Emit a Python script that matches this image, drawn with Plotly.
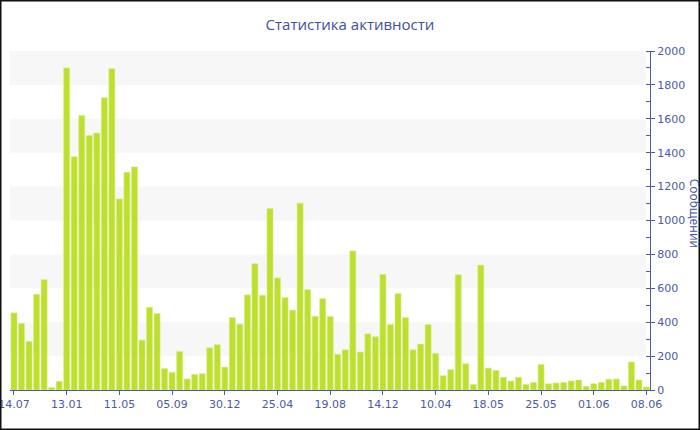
import plotly.graph_objects as go

# Data
messages = [455, 392, 286, 565, 651, 14, 51, 1900, 1376, 1620,
            1502, 1516, 1724, 1896, 1127, 1284, 1316, 294, 488, 451,
            127, 104, 227, 65, 92, 96, 249, 267, 135, 427,
            388, 561, 745, 559, 1071, 661, 545, 471, 1102, 592,
            435, 539, 433, 210, 237, 820, 224, 331, 314, 682,
            386, 569, 427, 237, 271, 386, 216, 84, 120, 680,
            155, 33, 737, 129, 116, 75, 53, 75, 33, 45,
            151, 37, 41, 45, 53, 59, 22, 37, 45, 63,
            65, 24, 165, 59, 18]
tick_labels = ["14.07", "13.01", "11.05", "05.09", "30.12", "25.04", "19.08",
               "14.12", "10.04", "18.05", "25.05", "01.06", "08.06"]
tick_step = 7
title_text = "Статистика активности"
y_title = "Сообщений"

x_idx = list(range(len(messages)))
tick_vals = [i * tick_step for i in range(len(tick_labels))]

W, H = 700, 430
ml, mr, mt, mb = 10, 50, 51, 40
pw, ph = W - ml - mr, H - mt - mb

axis_col = "#4a5aa8"
text_col = "#4a5aa8"
bar_col = "#bddf2e"

fig = go.Figure(go.Bar(
    x=x_idx, y=messages,
    marker=dict(color=bar_col, line=dict(color="#d6ec86", width=0.6)),
    hoverinfo="y",
))

shapes = []
for lo in range(200, 2000, 400):
    shapes.append(dict(type="rect", xref="paper", yref="y", x0=0, x1=0.994,
                       y0=lo, y1=lo + 200, fillcolor="#f7f7f7",
                       line=dict(width=0), layer="below"))
# outer border
shapes.append(dict(type="rect", xref="paper", yref="paper",
                   x0=-ml / pw + 0.75 / pw, x1=1 + (mr - 0.75) / pw,
                   y0=-mb / ph + 0.75 / ph, y1=1 + (mt - 0.75) / ph,
                   line=dict(color="#111111", width=1.5), fillcolor="rgba(0,0,0,0)"))

fig.update_layout(
    width=W, height=H,
    margin=dict(l=ml, r=mr, t=mt, b=mb, pad=0, autoexpand=False),
    paper_bgcolor="white", plot_bgcolor="white",
    title=dict(text=title_text, x=0.5, xref="container", xanchor="center",
               y=1 - 25 / H, yanchor="middle",
               font=dict(family="Open Sans", size=15, color="#3e4fa0")),
    bargap=0.2,
    showlegend=False,
    shapes=shapes,
    xaxis=dict(
        range=[-0.53, len(messages) - 0.53],
        tickmode="array", tickvals=tick_vals, ticktext=tick_labels,
        showgrid=False, zeroline=False, automargin=False,
        ticklabeloverflow="allow",
        showline=True, linecolor=axis_col, linewidth=1,
        ticks="outside", ticklen=4, tickcolor=axis_col,
        tickfont=dict(family="DejaVu Sans", size=11, color=text_col),
    ),
    yaxis=dict(
        side="right", range=[0, 2000], dtick=200,
        showgrid=False, zeroline=False, automargin=False,
        ticklabeloverflow="allow",
        showline=True, linecolor=axis_col, linewidth=1,
        ticks="outside", ticklen=4, tickcolor=axis_col,
        minor=dict(dtick=100, ticks="inside", ticklen=4, tickcolor=axis_col),
        tickfont=dict(family="DejaVu Sans", size=11, color=text_col),
    ),
    annotations=[dict(text=y_title, xref="paper", yref="paper",
                      x=1 + 44 / pw, y=0.52, xanchor="center", yanchor="middle",
                      textangle=90, showarrow=False,
                      font=dict(family="Open Sans", size=12, color="#3e4fa0"))],
)

fig.write_html("out.html", config={"displayModeBar": False},
               post_script="document.body.style.margin='0';document.body.style.overflow='hidden';")
